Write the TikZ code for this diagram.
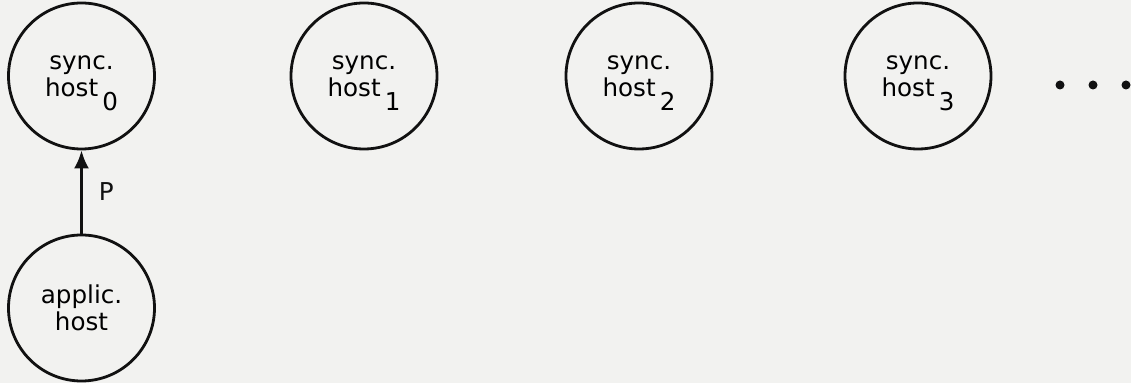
\documentclass[tikz,border=0pt]{standalone}
\usepackage{fontspec}
\setmainfont{DejaVu Sans}
\definecolor{papelGris}{HTML}{F2F2F0}
\definecolor{tintaNegra}{HTML}{111111}
\usepackage{tikz}
\usetikzlibrary{
	arrows.meta,
	positioning
}
\tikzset{
	circHost/.style={
		circle,
		draw=tintaNegra,
		line width=1.6pt,
		minimum size=2.92cm,
		inner sep=0pt,
		align=center,
		font=\fontsize{14}{15.5}\selectfont
	},
	flechaMsg/.style={
		-{Latex[length=3.6mm,width=3mm]},
		line width=1.6pt,
		draw=tintaNegra
	},
	etiqMsg/.style={
		font=\fontsize{14}{15.5}\selectfont,
		text=tintaNegra
	}
}
\newcommand{\subHost}[1]{\,\raisebox{-8pt}[0pt][0pt]{#1}}

\begin{document}
\begin{tikzpicture}
		\fill[papelGris] (0,0) rectangle (22.62,-7.66);
		\useasboundingbox (0,0) rectangle (22.62,-7.66);
		% sync hosts
		\foreach \i/\x in {0/1.63,1/7.28,2/12.78,3/18.36}{
			\node[circHost] (s\i) at (\x,-1.52) {sync.\\host\subHost{\i}};
		}
		\node[circHost] (ap) at (1.63,-6.16) {applic.\\host};
		\draw[flechaMsg] (ap) -- node[etiqMsg, right=2mm] (lblP) {P} (s0);
		% ellipsis
		\foreach \x in {21.2,21.86,22.52}{
			\fill[tintaNegra] (\x,-1.70) circle (0.09);
		}
	\end{tikzpicture}
\end{document}
